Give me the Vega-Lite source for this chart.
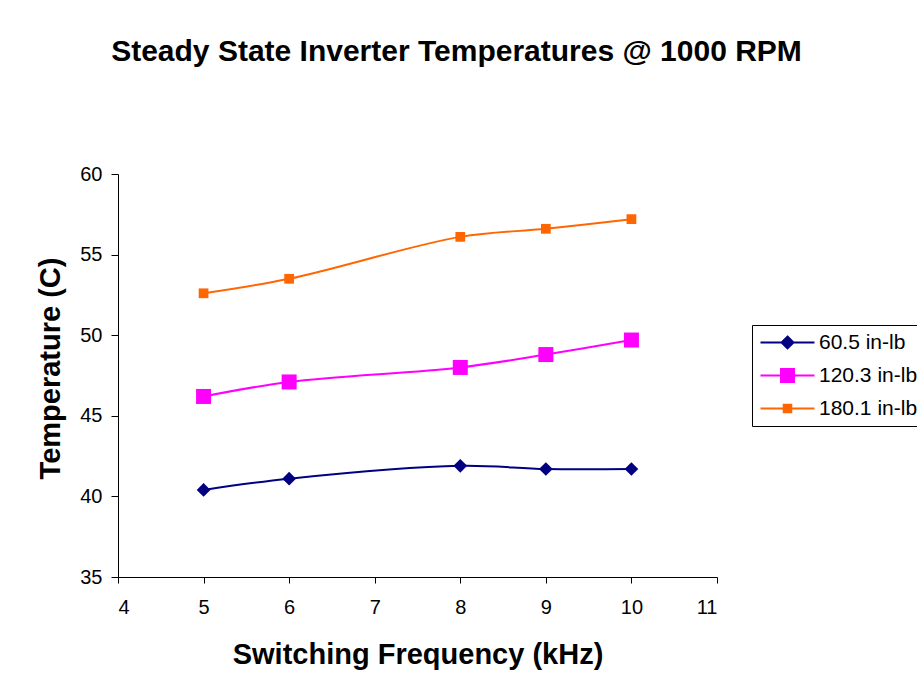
{
  "$schema": "https://vega.github.io/schema/vega-lite/v6.json",
  "autosize": {"type": "none"},
  "padding": {"left": 118, "top": 174, "right": 200, "bottom": 115},
  "width": 599,
  "height": 403,
  "background": "white",
  "title": {
    "text": "Steady State Inverter Temperatures @ 1000 RPM",
    "font": "Liberation Sans",
    "fontSize": 30,
    "fontWeight": "bold",
    "color": "black",
    "anchor": "middle",
    "frame": "group",
    "baseline": "alphabetic",
    "offset": 73,
    "dx": 39
  },
  "config": {
    "view": {"stroke": null},
    "font": "Liberation Sans",
    "axis": {
      "grid": false,
      "domainColor": "black",
      "domainWidth": 1,
      "tickColor": "black",
      "tickWidth": 1,
      "labelColor": "black",
      "labelFont": "Liberation Sans",
      "labelFontSize": 20,
      "titleFont": "Liberation Sans",
      "titleFontSize": 29,
      "titleFontWeight": "bold",
      "titleColor": "black"
    }
  },
  "data": {
    "values": [
      {"freq": 5, "temp": 40.4, "series": "60.5 in-lb"},
      {"freq": 6, "temp": 41.1, "series": "60.5 in-lb"},
      {"freq": 8, "temp": 41.9, "series": "60.5 in-lb"},
      {"freq": 9, "temp": 41.7, "series": "60.5 in-lb"},
      {"freq": 10, "temp": 41.7, "series": "60.5 in-lb"},
      {"freq": 5, "temp": 46.2, "series": "120.3 in-lb"},
      {"freq": 6, "temp": 47.1, "series": "120.3 in-lb"},
      {"freq": 8, "temp": 48.0, "series": "120.3 in-lb"},
      {"freq": 9, "temp": 48.8, "series": "120.3 in-lb"},
      {"freq": 10, "temp": 49.7, "series": "120.3 in-lb"},
      {"freq": 5, "temp": 52.6, "series": "180.1 in-lb"},
      {"freq": 6, "temp": 53.5, "series": "180.1 in-lb"},
      {"freq": 8, "temp": 56.1, "series": "180.1 in-lb"},
      {"freq": 9, "temp": 56.6, "series": "180.1 in-lb"},
      {"freq": 10, "temp": 57.2, "series": "180.1 in-lb"}
    ]
  },
  "encoding": {
    "x": {
      "field": "freq",
      "type": "quantitative",
      "title": "Switching Frequency (kHz)",
      "scale": {"domain": [4, 11], "nice": false, "zero": false},
      "axis": {
        "values": [4, 5, 6, 7, 8, 9, 10, 11],
        "tickSize": 6,
        "labelPadding": 14,
        "titleBaseline": "alphabetic",
        "titleY": 86
      }
    },
    "y": {
      "field": "temp",
      "type": "quantitative",
      "title": "Temperature (C)",
      "scale": {"domain": [35, 60], "nice": false, "zero": false},
      "axis": {
        "values": [35, 40, 45, 50, 55, 60],
        "tickSize": 7,
        "labelPadding": 9,
        "titleBaseline": "alphabetic",
        "titleX": -59,
        "titleY": 194,
        "titleAngle": -90
      }
    }
  },
  "layer": [
    {
      "mark": {"type": "line", "strokeWidth": 2, "interpolate": "catmull-rom"},
      "encoding": {
        "color": {
          "field": "series",
          "type": "nominal",
          "sort": ["60.5 in-lb", "120.3 in-lb", "180.1 in-lb"],
          "scale": {
            "domain": ["60.5 in-lb", "120.3 in-lb", "180.1 in-lb"],
            "range": ["#000080", "#FF00FF", "#FF6600"]
          },
          "legend": {
            "title": null,
            "orient": "none",
            "legendX": 634,
            "legendY": 151,
            "strokeColor": "black",
            "fillColor": "white",
            "padding": 7,
            "cornerRadius": 0,
            "labelFont": "Liberation Sans",
            "labelFontSize": 21,
            "labelColor": "black",
            "labelOffset": 39,
            "rowPadding": 11,
            "symbolSize": 324,
            "symbolStrokeWidth": 2,
            "encode": {
              "symbols": {
                "update": {
                  "shape": {"signal": "datum.value === '60.5 in-lb' ? 'M-1,0H5M2,-0.66L2.66,0L2,0.66L1.34,0Z' : datum.value === '120.3 in-lb' ? 'M-1,0H5M1.28,-0.72H2.72V0.72H1.28Z' : 'M-1,0H5M1.58,-0.42H2.42V0.42H1.58Z'"},
                  "size": {"value": 324},
                  "fill": {"scale": "color", "field": "value"},
                  "stroke": {"scale": "color", "field": "value"},
                  "strokeWidth": {"value": 2},
                  "opacity": {"value": 1}
                }
              }
            }
          }
        }
      }
    },
    {
      "transform": [{"filter": {"field": "series", "equal": "60.5 in-lb"}}],
      "mark": {"type": "point", "shape": "diamond", "filled": true, "opacity": 1, "size": 188, "color": "#000080"}
    },
    {
      "transform": [{"filter": {"field": "series", "equal": "120.3 in-lb"}}],
      "mark": {"type": "point", "shape": "square", "filled": true, "opacity": 1, "size": 225, "color": "#FF00FF"}
    },
    {
      "transform": [{"filter": {"field": "series", "equal": "180.1 in-lb"}}],
      "mark": {"type": "point", "shape": "square", "filled": true, "opacity": 1, "size": 95, "color": "#FF6600"}
    }
  ]
}
